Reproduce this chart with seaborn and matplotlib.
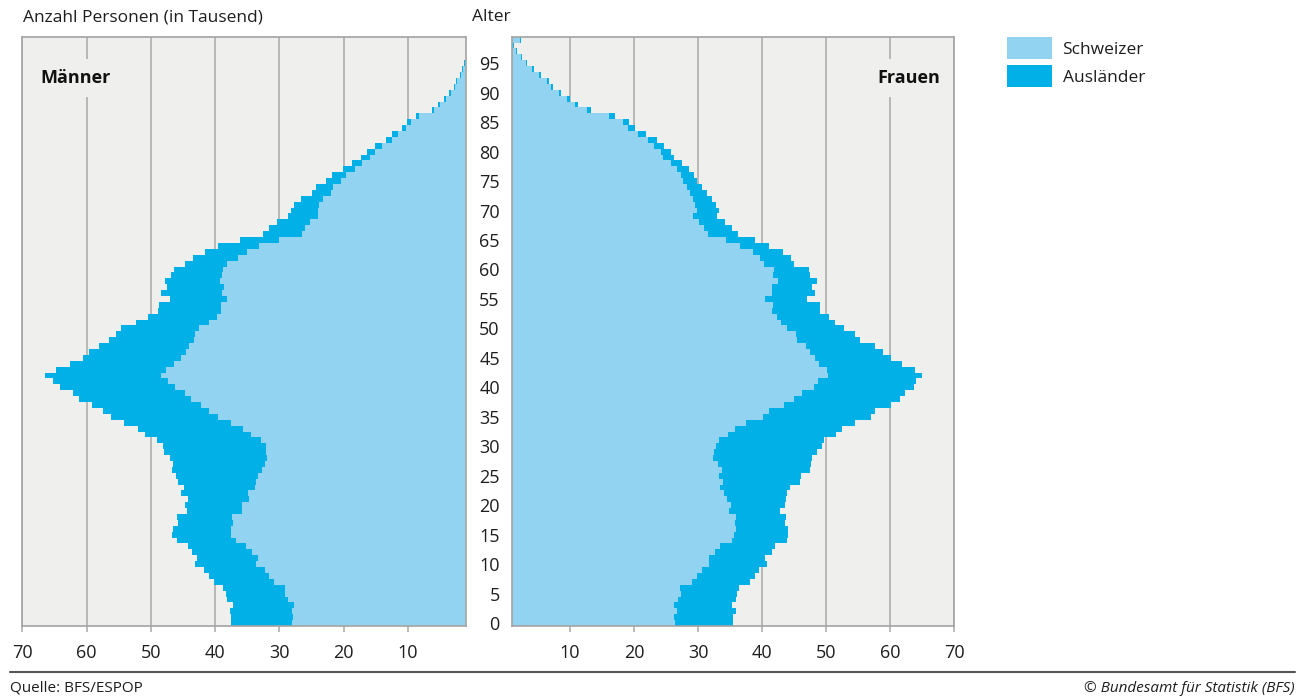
import numpy as np
import pandas as pd
import matplotlib
matplotlib.use("Agg")
import matplotlib.pyplot as plt
from matplotlib.patches import Patch
from matplotlib.lines import Line2D
import seaborn as sns

# ---------------- data (in thousands) ----------------
alter = list(range(100))  # 0 .. 99 (99 = 99 und mehr)

maenner_schweizer = [
    28.05, 27.9, 28.05, 27.7, 28.7, 29.1, 29.1, 30.85, 31.6, 32.25,
    33.65, 33.35, 34.3, 35.2, 36.75, 37.55, 37.55, 37.25, 37.4, 35.85,
    35.85, 34.75, 34.9, 33.8, 33.65, 33.35, 32.7, 32.25, 31.95, 32.1,
    32.1, 32.9, 34.45, 35.7, 37.55, 39.55, 40.95, 42.2, 43.8, 44.7,
    46.25, 47.35, 48.45, 47.65, 46.4, 45.35, 44.55, 44.1, 43.3, 43.15,
    42.55, 40.95, 39.75, 39.1, 39.1, 38.15, 38.95, 38.65, 39.25, 38.95,
    38.8, 38.15, 36.45, 35.05, 33.2, 30.1, 26.5, 26.0, 25.25, 24.05,
    24.0, 23.8, 23.2, 22.0, 21.7, 20.45, 19.65, 18.25, 17.15, 15.9,
    15.15, 14.05, 12.5, 11.55, 10.3, 9.5, 8.3, 5.95, 5.0, 4.1,
    3.3, 2.6, 2.3, 1.7, 1.4, 1.1, 0.85, 0.6, 0.4, 0.55]

maenner_gesamt = [
    37.55, 37.55, 37.7, 37.2, 38.2, 38.3, 38.8, 40.2, 41.0, 41.75,
    43.15, 42.85, 43.6, 44.25, 45.95, 46.75, 46.6, 45.8, 45.95, 44.4,
    44.7, 44.25, 45.35, 44.9, 45.8, 46.1, 46.75, 46.6, 47.05, 48.0,
    48.15, 49.1, 50.95, 52.05, 54.2, 56.25, 57.5, 59.2, 61.2, 62.15,
    64.2, 65.3, 66.5, 64.8, 62.6, 60.6, 59.65, 58.1, 56.55, 55.45,
    54.7, 52.35, 50.5, 48.9, 48.75, 47.05, 48.45, 47.5, 47.8, 46.9,
    46.4, 44.7, 43.45, 41.6, 39.55, 36.15, 32.55, 31.6, 30.4, 28.7,
    28.2, 27.75, 26.65, 24.95, 24.3, 22.8, 21.85, 20.15, 18.75, 17.35,
    16.4, 15.15, 13.45, 12.5, 10.95, 10.15, 8.75, 6.25, 5.3, 4.4,
    3.6, 2.85, 2.5, 1.9, 1.5, 1.2, 0.9, 0.65, 0.45, 0.6]

frauen_schweizer = [
    26.43, 26.27, 26.74, 26.27, 26.9, 27.37, 27.21, 29.08, 29.86, 30.64,
    31.73, 31.73, 32.67, 33.45, 35.32, 35.63, 35.95, 35.79, 35.95, 34.85,
    35.17, 34.54, 34.07, 33.45, 33.92, 33.3, 33.76, 33.14, 32.36, 32.51,
    32.83, 33.3, 34.7, 35.79, 37.51, 40.16, 41.1, 43.43, 45.0, 46.24,
    48.12, 48.74, 50.3, 50.14, 48.9, 48.27, 47.49, 46.87, 45.46, 45.3,
    43.9, 42.97, 42.34, 41.56, 41.72, 40.47, 41.56, 41.56, 42.5, 41.72,
    41.88, 40.31, 39.69, 38.6, 36.57, 34.39, 31.58, 30.95, 30.17, 29.24,
    29.86, 29.55, 29.24, 28.77, 28.32, 27.7, 27.3, 26.76, 25.83, 24.58,
    24.27, 23.18, 22.25, 20.69, 18.98, 18.2, 16.07, 12.6, 10.73, 9.48,
    8.24, 7.0, 6.37, 5.12, 4.03, 3.1, 2.37, 1.6, 1.1, 2.22]

frauen_gesamt = [
    35.48, 35.48, 35.95, 35.32, 35.95, 36.1, 36.41, 38.13, 38.91, 39.53,
    40.78, 40.47, 41.56, 42.03, 43.9, 44.06, 44.06, 43.59, 43.75, 42.81,
    43.59, 43.75, 43.9, 44.37, 45.93, 46.09, 47.49, 47.65, 47.8, 48.58,
    49.36, 49.68, 51.55, 52.48, 54.51, 57.0, 57.63, 60.13, 61.53, 62.31,
    63.72, 64.03, 64.96, 63.87, 61.84, 60.13, 58.88, 57.63, 55.29, 54.51,
    52.8, 51.39, 50.46, 49.05, 49.05, 47.02, 48.27, 47.8, 48.58, 47.49,
    47.34, 45.0, 44.53, 43.28, 41.1, 38.91, 36.26, 35.32, 34.23, 32.98,
    33.3, 32.83, 32.2, 31.42, 30.65, 29.88, 29.4, 28.63, 27.54, 26.2,
    25.72, 24.63, 23.54, 21.83, 20.12, 19.19, 17.0, 13.27, 11.25, 10.0,
    8.55, 7.3, 6.68, 5.43, 4.4, 3.3, 2.53, 1.75, 1.2, 2.37]

x_ticks = [10, 20, 30, 40, 50, 60, 70]
alter_ticks = list(range(0, 100, 5))
legend_labels = ["Schweizer", "Ausländer"]

# ---------------- style ----------------
C_CH = "#92d3f1"
C_AUS = "#00b0e6"
C_BG = "#eff0ee"
C_GRID = "#a8a8a8"
C_TXT = "#1e1e1e"

sns.set_theme(style="white")
plt.rcParams["font.family"] = ["Open Sans", "DejaVu Sans"]

W, H = 1313, 698
fig = plt.figure(figsize=(W / 100, H / 100), dpi=100)


def fx(px):
    return px / W


def fy(py):
    return 1 - py / H


top_px, bot_px = 36.7, 626.0
axL = fig.add_axes([fx(22.3), fy(bot_px), fx(465.7 - 22.3), (bot_px - top_px) / H])
axR = fig.add_axes([fx(512.3), fy(bot_px), fx(954.4 - 512.3), (bot_px - top_px) / H])

df_m = pd.DataFrame({"alter": alter, "schweizer": maenner_schweizer, "gesamt": maenner_gesamt})
df_f = pd.DataFrame({"alter": alter, "schweizer": frauen_schweizer, "gesamt": frauen_gesamt})

for ax, df in ((axL, df_m), (axR, df_f)):
    ax.set_facecolor(C_BG)
    ax.set_axisbelow(True)
    # total (Schweizer + Ausländer) drawn first, Schweizer on top
    sns.barplot(data=df, x="gesamt", y="alter", orient="y", native_scale=True,
                width=1, color=C_AUS, saturation=1, errorbar=None,
                linewidth=0, antialiased=False, ax=ax)
    sns.barplot(data=df, x="schweizer", y="alter", orient="y", native_scale=True,
                width=1, color=C_CH, saturation=1, errorbar=None,
                linewidth=0, antialiased=False, ax=ax)
    ax.set_ylim(-0.5, 99.5)
    ax.set_xticks(x_ticks)
    ax.set_xticklabels([str(t) for t in x_ticks])
    ax.grid(axis="x", color=C_GRID, linewidth=1.1)
    ax.grid(axis="y", visible=False)
    ax.set_xlabel("")
    ax.set_ylabel("")
    for s in ax.spines.values():
        s.set_color("#a3a3a3")
        s.set_linewidth(1.2)
        s.set_visible(True)
    ax.tick_params(axis="x", direction="out", length=4, width=1.1, color=C_GRID,
                   labelsize=13, labelcolor=C_TXT, pad=9, bottom=True)

axL.set_xlim(70, 1)
axR.set_xlim(1, 70)

axL.set_yticks([])
axR.set_yticks(alter_ticks)
axR.set_yticklabels([str(a) for a in alter_ticks])
axR.tick_params(axis="y", left=True, length=0, labelsize=13, labelcolor=C_TXT, pad=9)

# panel titles
axL.text(0.04, 0.93, "Männer", transform=axL.transAxes, ha="left", va="center",
         fontsize=13, fontweight="bold", color="#111111", zorder=5,
         bbox=dict(boxstyle="square,pad=0.55", facecolor=C_BG, edgecolor="none"))
axR.text(0.967, 0.93, "Frauen", transform=axR.transAxes, ha="right", va="center",
         fontsize=13, fontweight="bold", color="#111111", zorder=5,
         bbox=dict(boxstyle="square,pad=0.55", facecolor=C_BG, edgecolor="none"))

# headers
fig.text(fx(23), fy(17), "Anzahl Personen (in Tausend)", ha="left", va="center",
         fontsize=12.5, color=C_TXT)
fig.text(fx(472), fy(17), "Alter", ha="left", va="center", fontsize=12.5, color=C_TXT)

# legend
handles = [Patch(facecolor=C_CH, edgecolor="none"), Patch(facecolor=C_AUS, edgecolor="none")]
fig.legend(handles, legend_labels, loc="upper left", bbox_to_anchor=(fx(1007), fy(36.7)),
           frameon=False, fontsize=12.5, borderpad=0, borderaxespad=0,
           handlelength=2.6, handleheight=1.6, handletextpad=0.6, labelspacing=0.35,
           labelcolor=C_TXT)

# footer
fig.add_artist(Line2D([fx(10), fx(1295)], [fy(672), fy(672)], color="#555555",
                      linewidth=1.5, transform=fig.transFigure))
fig.text(fx(10), fy(688), "Quelle: BFS/ESPOP", ha="left", va="center",
         fontsize=11, color=C_TXT)
fig.text(fx(1295), fy(688), "© Bundesamt für Statistik (BFS)", ha="right", va="center",
         fontsize=11, color=C_TXT, style="italic")

fig.savefig("out.png", dpi=100, facecolor="white")
